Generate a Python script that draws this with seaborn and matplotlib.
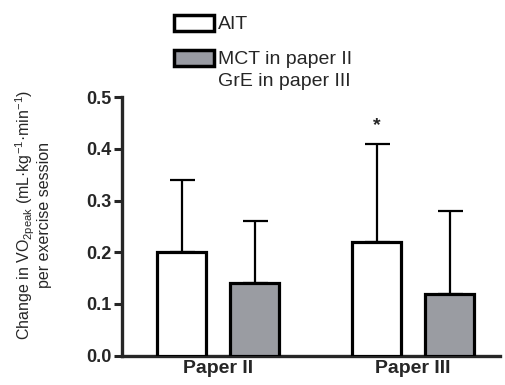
import matplotlib
matplotlib.use("Agg")
import matplotlib.pyplot as plt
import seaborn as sns
import pandas as pd
from matplotlib.patches import Patch

groups = ["Paper II", "Paper II", "Paper III", "Paper III"]
conditions = ["AIT", "Other", "AIT", "Other"]
values = [0.20, 0.14, 0.22, 0.12]
errors = [0.14, 0.12, 0.19, 0.16]
legend_labels = ["AIT", "MCT in paper II", "GrE in paper III"]
yticks = [0.0, 0.1, 0.2, 0.3, 0.4, 0.5]

sns.set_style("ticks")
plt.rcParams['font.family'] = ['Liberation Sans', 'DejaVu Sans']

df = pd.DataFrame({"group": groups, "cond": conditions, "value": values})

fig = plt.figure(figsize=(5.06, 3.85), dpi=100)
ax = fig.add_axes([0.2405, 0.076, 0.747, 0.672])

white = "#ffffff"
gray = "#999ba3"
sns.barplot(data=df, x="group", y="value", hue="cond", hue_order=["AIT", "Other"],
            palette=[white, gray], width=0.75, gap=0.33, errorbar=None,
            edgecolor="black", linewidth=2.3, ax=ax, legend=False, zorder=3)

# error bars (upward only); bars sorted by x follow the data order
bars = sorted([p for p in ax.patches if p.get_height() > 0], key=lambda p: p.get_x())
for p, v, e in zip(bars, values, errors):
    cx = p.get_x() + p.get_width() / 2
    ax.errorbar(cx, v, yerr=[[0], [e]], fmt="none", ecolor="black",
                elinewidth=1.6, capsize=9, capthick=1.6, zorder=2)

# significance star above AIT Paper III
p3 = bars[2]
ax.text(p3.get_x() + p3.get_width() / 2, values[2] + errors[2] + 0.018, "*",
        ha="center", va="bottom", fontsize=14, fontweight="bold")

ax.set_ylim(0, 0.5)
ax.set_xlim(-0.496, 1.444)
ax.set_yticks(yticks)
ax.set_yticklabels([f"{t:.1f}" for t in yticks], fontsize=13, fontweight="bold")
ax.set_xticks([0, 1])
ax.set_xticklabels(["Paper II", "Paper III"], fontsize=14, fontweight="bold")
ax.tick_params(axis="y", length=6, width=2.2, pad=1)
ax.tick_params(axis="x", length=0, pad=3)
ax.set_xlabel("")
ax.set_ylabel("Change in VO$_{\\mathregular{2peak}}$ (mL·kg$^{\\mathregular{-1}}$·min$^{\\mathregular{-1}}$)\nper exercise session",
              fontsize=11.5, linespacing=1.05)
ax.yaxis.set_label_coords(-0.184, 0.544)
for s in ["top", "right"]:
    ax.spines[s].set_visible(False)
for s in ["left", "bottom"]:
    ax.spines[s].set_linewidth(2.4)

handles = [Patch(facecolor=white, edgecolor="black", linewidth=2.5),
           Patch(facecolor=gray, edgecolor="black", linewidth=2.5)]
leg = fig.legend(handles, legend_labels[:2], loc="upper left",
                 bbox_to_anchor=(174 / 506, 1 - 15 / 385), frameon=False,
                 fontsize=14, handlelength=2.05, handleheight=0.85,
                 handletextpad=0.2, labelspacing=0.85, borderpad=0, borderaxespad=0)

fig.canvas.draw()
r = fig.canvas.get_renderer()
tb = leg.get_texts()[1].get_window_extent(r)
fx, fy = fig.transFigure.inverted().transform((tb.x0, tb.y0 - 5))
fig.text(fx, fy, legend_labels[2], fontsize=14, ha="left", va="top")

fig.savefig("out.png", dpi=100)
